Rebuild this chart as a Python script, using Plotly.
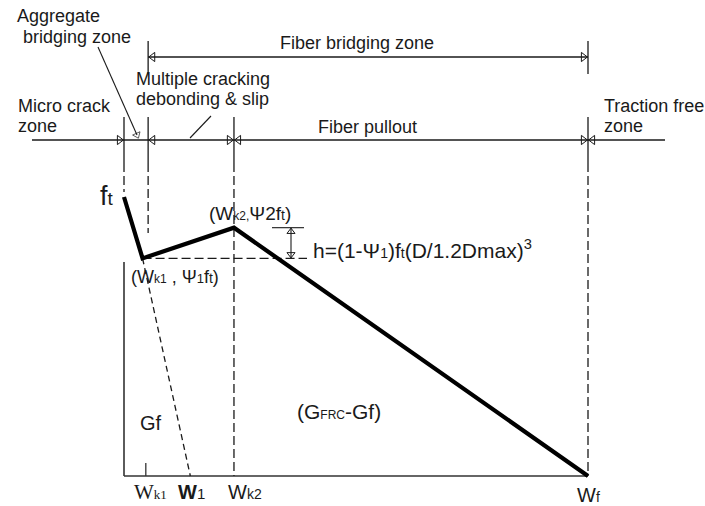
import plotly.graph_objects as go

# ---------------- data (normalised: w / wf , sigma / ft) ----------------
curve_w = [0.0, 0.04, 0.237, 1.0]       # ft, (Wk1,Psi1 ft), (Wk2,Psi2 ft), Wf
curve_sigma = [1.0, 0.78, 0.89, 0.0]
w1 = 0.143                               # intercept of the aggregate-bridging line
wk1_tick = 0.047
zone_bounds = [0.0, 0.052, 0.237, 1.0]   # micro crack | aggregate | multiple cracking | pullout | free
x_labels = ["<span style='font-family:Liberation Serif;font-size:21px'>W</span><span style='font-size:13px;font-family:Liberation Serif'>k1</span>",
            "<b>W</b><span style='font-size:15px'>1</span>",
            "W<span style='font-size:14px'>k2</span>",
            "W<span style='font-size:14px'>f</span>"]

# ---------------- layout helpers (pixel -> data) ----------------
WIDTH, HEIGHT = 705, 506
X0, Y0, SX, SY = 124, 476, 464, 279


def X(px):
    return (px - X0) / SX


def Y(py):
    return (Y0 - py) / SY


INK = "#1a1a1a"
FONT = "Liberation Sans, Arial, sans-serif"
fig = go.Figure()


def line(xs, ys, width=1.3, dash=None, color=INK):
    fig.add_trace(go.Scatter(x=xs, y=ys, mode="lines", hoverinfo="skip",
                             line=dict(color=color, width=width, dash=dash)))


def marks(xs, ys, symbol, size=8):
    fig.add_trace(go.Scatter(x=xs, y=ys, mode="markers", hoverinfo="skip",
                             marker=dict(symbol=symbol, size=size, color=INK,
                                         line=dict(color=INK, width=1))))


DASH = "9px,4px"
tri = 4.6  # px offset of triangle centre from its tip

# axes
line([0, curve_w[-1]], [0, 0], width=1.6, color="#333")
line([0, 0], [Y(262), 0], width=1.6, color="#333")
line([wk1_tick, wk1_tick], [Y(463), 0], width=1.3, color="#333")

# dashed construction lines
zl_y = Y(140)
tick_lo, tick_hi = Y(163), Y(117)
line([zone_bounds[0]] * 2, [tick_lo, Y(192)], dash=DASH)
line([zone_bounds[1]] * 2, [tick_lo, Y(233)], dash=DASH)
line([zone_bounds[2]] * 2, [tick_lo, 0], dash=DASH)
line([zone_bounds[3]] * 2, [tick_lo, 0], dash=DASH)
line([curve_w[1], X(307)], [curve_sigma[1]] * 2, dash=DASH)
line([curve_w[1], w1], [curve_sigma[1], 0], dash="6px,4px")

# h indicator
line([X(272), X(304)], [curve_sigma[2]] * 2, width=1.1)
line([X(291), X(291)], [curve_sigma[2], curve_sigma[1]], width=1.1)
marks([X(291)], [curve_sigma[2] - 4 / SY], "triangle-up-open", 7)
marks([X(291)], [curve_sigma[1] + 4 / SY], "triangle-down-open", 7)

# softening curve
line(curve_w, curve_sigma, width=4.2, color="black")

# zone dimension line (lower)
line([X(32), X(665)], [zl_y, zl_y], width=1.3)
for b in zone_bounds:
    line([b, b], [tick_lo, tick_hi], width=1.3)
marks([zone_bounds[0] - tri / SX, zone_bounds[2] - tri / SX, zone_bounds[3] - tri / SX],
      [zl_y] * 3, "triangle-right-open")
marks([zone_bounds[1] + tri / SX, zone_bounds[2] + tri / SX, zone_bounds[3] + tri / SX],
      [zl_y] * 3, "triangle-left-open")

# fiber bridging zone line (upper)
ub_y = Y(57)
line([zone_bounds[1], zone_bounds[3]], [ub_y, ub_y], width=1.3)
for b in (zone_bounds[1], zone_bounds[3]):
    line([b, b], [Y(74), Y(41)], width=1.3)
marks([zone_bounds[1] + tri / SX], [ub_y], "triangle-left-open")
marks([zone_bounds[3] - tri / SX], [ub_y], "triangle-right-open")

# leader lines
fig.add_trace(go.Scatter(x=[X(98), X(137)], y=[Y(47), Y(135)], mode="lines+markers",
                         hoverinfo="skip", line=dict(color=INK, width=1.1),
                         marker=dict(symbol="triangle-up-open", size=[0, 7], angleref="previous",
                                     color=INK, line=dict(color=INK, width=1))))
line([X(190), X(211)], [Y(138), Y(116)], width=1.1)


def text(px, py, s, size=18, anchor="center", family=FONT):
    fig.add_annotation(x=X(px), y=Y(py), text=s, showarrow=False, xanchor=anchor,
                       yanchor="middle", font=dict(family=family, size=size, color=INK))


# zone texts
text(15, 16, "Aggregate", anchor="left")
text(21, 37, "bridging zone", anchor="left")
text(357, 43, "Fiber bridging zone")
text(134, 79, "Multiple cracking", anchor="left")
text(134, 99, "debonding &amp; slip", anchor="left")
text(16, 106, "Micro crack", anchor="left")
text(16, 126, "zone", anchor="left")
text(367, 127, "Fiber pullout")
text(602, 106, "Traction free", anchor="left")
text(602, 126, "zone", anchor="left")

# curve labels
text(107, 196, "f<span style='font-size:19px'>t</span>", size=27)
text(250, 213, "(W<span style='font-size:12px'>k2,</span>Ψ2f<span style='font-size:14px'>t</span>)", size=19)
text(175, 277, "(W<span style='font-size:12px'>k1</span> , Ψ<span style='font-size:13px'>1</span>f<span style='font-size:14px'>t</span>)", size=18)
text(311, 249, "h=(1-Ψ<span style='font-size:14px'>1</span>)f<span style='font-size:14px'>t</span>(D/1.2Dmax)<sup>3</sup>",
     size=21, anchor="left")
text(151, 423, "Gf", size=20)
text(339, 411, "(G<span style='font-size:12px'>FRC</span>-Gf)", size=21)

# x labels
label_px = [150, 191, 245, 588]
label_py = [492, 492, 492, 495]
for s, lx, ly in zip(x_labels, label_px, label_py):
    text(lx, ly, s, size=20)

fig.update_layout(
    width=WIDTH, height=HEIGHT, margin=dict(l=0, r=0, t=0, b=0),
    paper_bgcolor="white", plot_bgcolor="white", showlegend=False,
    xaxis=dict(range=[X(0), X(WIDTH)], visible=False, fixedrange=True),
    yaxis=dict(range=[Y(HEIGHT), Y(0)], visible=False, fixedrange=True),
)
fig.write_html("out.html")
